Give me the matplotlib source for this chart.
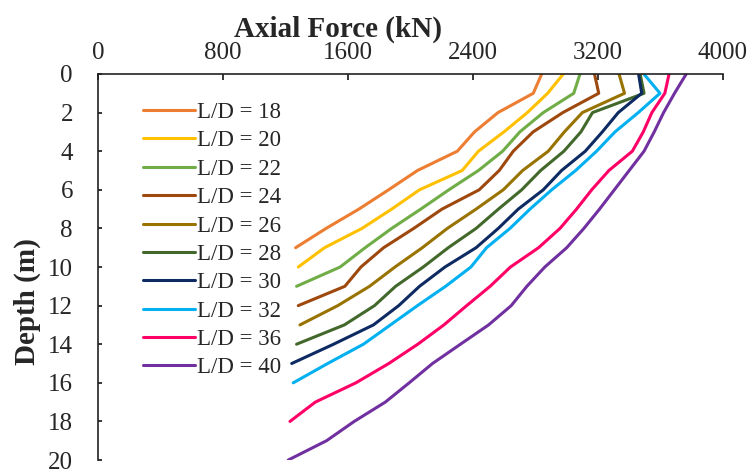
import numpy as np
import matplotlib
matplotlib.use("Agg")
import matplotlib.pyplot as plt

plt.rcParams['font.family'] = ['Liberation Serif', 'DejaVu Serif']

# Slenderness ratios of the piles
ld_ratios = [18, 20, 22, 24, 26, 28, 30, 32, 36, 40]

# Axial force (kN) along the pile, one value per metre of depth from the head
force_ld18 = [2840, 2786, 2560, 2410, 2300, 2045, 1860, 1670, 1460, 1265]
force_ld20 = [2978, 2878, 2748, 2598, 2435, 2331, 2058, 1880, 1690, 1450, 1282]
force_ld22 = [3085, 3045, 2850, 2700, 2590, 2435, 2246, 2066, 1880, 1710, 1550, 1271]
force_ld24 = [3178, 3205, 2975, 2785, 2658, 2568, 2440, 2202, 2021, 1828, 1683, 1580, 1282]
force_ld26 = [3335, 3370, 3100, 2985, 2882, 2718, 2594, 2420, 2236, 2076, 1901, 1738, 1535,
              1293]
force_ld28 = [3470, 3495, 3165, 3091, 2982, 2833, 2712, 2563, 2420, 2242, 2082, 1905, 1770,
              1577, 1271]
force_ld30 = [3460, 3480, 3330, 3228, 3119, 2967, 2850, 2690, 2562, 2420, 2221, 2058, 1925,
              1763, 1508, 1240]
force_ld32 = [3494, 3597, 3458, 3309, 3191, 3057, 2904, 2765, 2637, 2487, 2387, 2225, 2045,
              1872, 1699, 1470, 1250]
force_ld36 = [3655, 3628, 3545, 3490, 3420, 3270, 3160, 3063, 2957, 2820, 2640, 2510, 2360,
              2214, 2047, 1861, 1651, 1391, 1229]
force_ld40 = [3765, 3690, 3620, 3560, 3495, 3400, 3305, 3210, 3110, 3000, 2860, 2745, 2645,
              2500, 2320, 2141, 1992, 1839, 1640, 1463, 1218]

forces = [force_ld18, force_ld20, force_ld22, force_ld24, force_ld26,
          force_ld28, force_ld30, force_ld32, force_ld36, force_ld40]

line_colors = ["#ED7D31", "#FFC000", "#70AD47", "#9E480E", "#997300",
               "#43682B", "#0D2B62", "#00B0F0", "#FF0066", "#7030A0"]

x_ticks = [0, 800, 1600, 2400, 3200, 4000]
y_ticks = [0, 2, 4, 6, 8, 10, 12, 14, 16, 18, 20]

text_color = "#262626"


def main():
    fig = plt.figure(figsize=(7.53, 4.74), dpi=100)
    ax = fig.add_axes([0.1301, 0.0295, 0.8300, 0.8144])

    # One force profile per pile, depth on the (inverted) vertical axis
    for ratio, force, color in zip(ld_ratios, forces, line_colors):
        depth = np.arange(len(force))
        ax.plot(force, depth, color=color, lw=2.2, label=f"L/D = {ratio}",
                solid_capstyle="round", solid_joinstyle="round")

    ax.set_xlim(x_ticks[0], x_ticks[-1])
    ax.set_ylim(y_ticks[-1], y_ticks[0])
    ax.set_xticks(x_ticks)
    ax.set_yticks(y_ticks)

    # Force axis sits on top, like a pile load diagram
    ax.xaxis.tick_top()
    ax.tick_params(axis="x", direction="in", length=4.5, width=1.1, pad=7,
                   labelsize=18, labelcolor=text_color)
    ax.tick_params(axis="y", direction="in", length=3, width=1.1, pad=18,
                   labelsize=18, labelcolor=text_color)
    for side in ["right", "bottom"]:
        ax.spines[side].set_visible(False)
    for side in ["left", "top"]:
        ax.spines[side].set_linewidth(1.2)
        ax.spines[side].set_color("#222222")

    fig.text(338 / 753, 1 - 29 / 474, "Axial Force (kN)", ha="center", va="center",
             fontsize=21, fontweight="bold", color=text_color)
    fig.text(27 / 753, 1 - 302 / 474, "Depth (m)", ha="center", va="center",
             rotation=90, fontsize=21, fontweight="bold", color=text_color)

    ax.legend(loc="upper left", bbox_to_anchor=(143 / 753, 1 - 102 / 474),
              bbox_transform=fig.transFigure, frameon=False, fontsize=16.5,
              handlelength=2.27, handletextpad=0.1, labelspacing=0.32,
              borderpad=0, borderaxespad=0, labelcolor=text_color)

    fig.savefig("out.png", dpi=100)


if __name__ == '__main__':
    main()
